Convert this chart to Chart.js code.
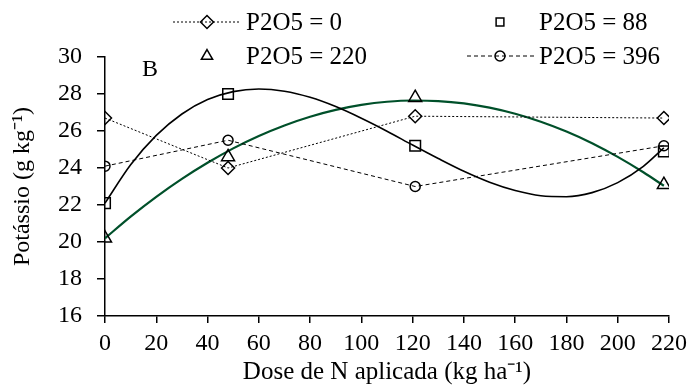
<!DOCTYPE html>
<html>
<head>
<meta charset="utf-8">
<script src="https://cdn.jsdelivr.net/npm/chart.js@4"></script>
<style>
  html, body { margin: 0; padding: 0; background: #fff; }
</style>
</head>
<body>
<canvas id="chart" width="694" height="391"></canvas>
<script>
// measured doses of N (kg/ha) and potassium (g/kg) per P2O5 level
const doses = [0, 48, 121, 218];
const seriesLabels = ["P2O5 = 0", "P2O5 = 88", "P2O5 = 220", "P2O5 = 396"];
const potassio0 = [26.7, 24.0, 26.8, 26.7];
const potassio88 = [22.1, 28.0, 25.2, 24.9];
const potassio220 = [20.2, 24.6, 27.8, 23.1];
const potassio396 = [24.1, 25.5, 23.0, 25.2];

// fitted curves
const curveDoses = [0, 10, 20, 30, 40, 50, 60, 70, 80, 90, 100, 110, 120, 130, 140, 150, 160, 170, 180, 190, 200, 210, 218];
const curve88 = [22.1, 24.17, 25.76, 26.92, 27.7, 28.13, 28.27, 28.15, 27.82, 27.32, 26.69, 25.99, 25.24, 24.51, 23.82, 23.23, 22.78, 22.5, 22.45, 22.67, 23.21, 24.09, 25.09];
const curve220 = [20.2, 21.37, 22.44, 23.41, 24.28, 25.06, 25.73, 26.3, 26.77, 27.14, 27.41, 27.58, 27.65, 27.62, 27.49, 27.26, 26.93, 26.5, 25.97, 25.34, 24.6, 23.77, 23.04];

const FONT = "'Liberation Serif', 'Times New Roman', serif";
const pts = (xs, ys) => xs.map((x, i) => ({ x: x, y: ys[i] }));

const markers = [
  { pointStyle: "rectRot", radius: 6.5, dash: [2, 2], line: true },
  { pointStyle: "rect", radius: 7.5, dash: [], line: false },
  { pointStyle: "triangle", radius: 7.5, dash: [], line: false },
  { pointStyle: "circle", radius: 5, dash: [4, 3], line: true },
];

const pointData = [potassio0, potassio88, potassio220, potassio396];

const datasets = pointData.map((vals, i) => ({
  label: seriesLabels[i],
  data: pts(doses, vals),
  showLine: markers[i].line,
  borderColor: "#000",
  borderWidth: 1,
  borderDash: markers[i].dash,
  pointStyle: markers[i].pointStyle,
  pointRadius: markers[i].radius,
  pointBorderWidth: 1.5,
  pointBorderColor: "#000",
  pointBackgroundColor: "rgba(0,0,0,0)",
  tension: 0,
  order: 1,
}));

datasets.push({
  label: "fit 88",
  data: pts(curveDoses, curve88),
  showLine: true,
  borderColor: "#000",
  borderWidth: 1.6,
  pointRadius: 0,
  cubicInterpolationMode: "monotone",
  order: 2,
});
datasets.push({
  label: "fit 220",
  data: pts(curveDoses, curve220),
  showLine: true,
  borderColor: "#00502a",
  borderWidth: 2.2,
  pointRadius: 0,
  cubicInterpolationMode: "monotone",
  order: 2,
});

// two-row legend and the panel letter
const legendPlugin = {
  id: "legendGrid",
  afterDraw(chart) {
    const ctx = chart.ctx;
    const colX = [207, 500];
    const rowY = [22, 56];
    const lineSpan = [[173, 240], [467, 535]];
    ctx.save();
    ctx.font = "25px " + FONT;
    ctx.fillStyle = "#000";
    ctx.textBaseline = "middle";
    ctx.textAlign = "left";
    markers.forEach((m, i) => {
      const col = i % 2, row = Math.floor(i / 2);
      const x = colX[col], y = rowY[row];
      if (m.line) {
        ctx.beginPath();
        ctx.setLineDash(m.dash);
        ctx.lineWidth = 1;
        ctx.strokeStyle = "#000";
        ctx.moveTo(lineSpan[col][0], y);
        ctx.lineTo(lineSpan[col][1], y);
        ctx.stroke();
        ctx.setLineDash([]);
      }
      ctx.fillStyle = "rgba(0,0,0,0)";
      ctx.strokeStyle = "#000";
      ctx.lineWidth = 1.5;
      const r = m.pointStyle === "rect" ? 5.5 : m.pointStyle === "triangle" ? 6.5 : m.radius;
      Chart.helpers.drawPoint(ctx, { pointStyle: m.pointStyle, radius: r, rotation: 0, borderWidth: 1.5 }, x, y);
      ctx.fillStyle = "#000";
      ctx.fillText(seriesLabels[i], x + 39, y + 1);
    });
    ctx.font = "24px " + FONT;
    ctx.textAlign = "center";
    ctx.fillText("B", 150, 70);
    ctx.restore();
  },
};

new Chart(document.getElementById("chart"), {
  type: "scatter",
  data: { datasets: datasets },
  options: {
    responsive: false,
    animation: false,
    layout: { padding: { left: 0, right: 25, top: 57, bottom: 0 } },
    plugins: { legend: { display: false }, tooltip: { enabled: false } },
    scales: {
      x: {
        type: "linear",
        min: 0,
        max: 220,
        afterFit: (scale) => { scale.height = 75; },
        ticks: { stepSize: 20, color: "#000", font: { family: FONT, size: 24 }, padding: 6 },
        grid: { drawOnChartArea: false, tickLength: 7, color: "#000", lineWidth: 1.5 },
        border: { color: "#000", width: 1.5 },
        title: {
          display: true,
          text: "Dose de N aplicada (kg ha\u207B\u00B9)",
          color: "#000",
          font: { family: FONT, size: 25 },
          padding: { top: 0, bottom: 4 },
        },
      },
      y: {
        min: 16,
        max: 30,
        afterFit: (scale) => { scale.width = 105; },
        ticks: { stepSize: 2, color: "#000", font: { family: FONT, size: 24 }, padding: 15 },
        grid: { drawOnChartArea: false, tickLength: 8, color: "#000", lineWidth: 1.5 },
        border: { color: "#000", width: 1.5 },
        title: {
          display: true,
          text: "Potássio (g kg\u207B\u00B9)",
          color: "#000",
          font: { family: FONT, size: 24 },
          padding: { top: 8, bottom: 0 },
        },
      },
    },
  },
  plugins: [legendPlugin],
});
</script>
</body>
</html>
